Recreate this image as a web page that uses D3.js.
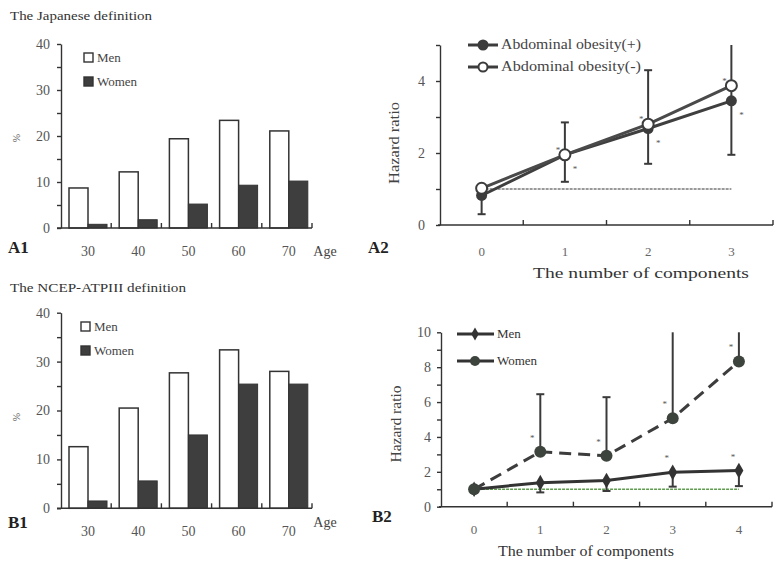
<!DOCTYPE html>
<html>
<head>
<meta charset="utf-8">
<script src="https://cdn.jsdelivr.net/npm/d3@7"></script>
<style>
  body { margin: 0; background: #fff; }
  svg { font-family: "Liberation Serif", "Times New Roman", serif; }
</style>
</head>
<body>
<svg id="fig" width="774" height="562"></svg>
<script>
// ---- data ----
const ages = ['30', '40', '50', '60', '70'];
const sexes = ['Men', 'Women'];
const jpMen = [8.7, 12.2, 19.4, 23.4, 21.1];
const jpWomen = [0.8, 1.8, 5.2, 9.3, 10.2];
const ncepMen = [12.6, 20.5, 27.7, 32.4, 28.0];
const ncepWomen = [1.5, 5.6, 15.0, 25.4, 25.4];

const compsA = ['0', '1', '2', '3'];
const obesPos = [0.82, 1.95, 2.68, 3.45];
const obesNeg = [1.02, 1.95, 2.8, 3.87];
const obesPosLo = [0.3, 1.2, 1.7, 1.95];
const obesPosHi = [1.1, 2.85, 4.3, 5.6];

const compsB = ['0', '1', '2', '3', '4'];
const menHR = [1.0, 1.38, 1.5, 1.97, 2.07];
const menLo = [1.0, 0.82, 0.9, 1.15, 1.18];
const womenHR = [1.0, 3.15, 2.92, 5.07, 8.33];
const womenHi = [1.0, 6.45, 6.28, 10.8, 11.5];

const svg = d3.select('#fig');
const ink = '#333';
const tickInk = '#555';

function txt(g, x, y, s, opts = {}) {
  const t = g.append('text').attr('x', x).attr('y', y).text(s)
    .attr('font-size', opts.size || 13)
    .attr('fill', opts.fill || ink);
  if (opts.bold) t.attr('font-weight', 'bold');
  if (opts.anchor) t.attr('text-anchor', opts.anchor);
  // the scan is a little stretched sideways, so stretch glyphs to the measured width
  if (opts.len) t.attr('textLength', opts.len).attr('lengthAdjust', 'spacingAndGlyphs');
  if (opts.rot) t.attr('transform', `rotate(-90,${x},${y})`);
  return t;
}

function styleAxis(ax) {
  ax.selectAll('path,line').attr('stroke', ink).attr('stroke-width', 1.4);
  ax.selectAll('text').attr('font-family', 'Liberation Serif, Times New Roman, serif')
    .attr('font-size', 14).attr('fill', tickInk);
}

// ---- bar panels (A1, B1) ----
function barPanel(cfg) {
  const g = svg.append('g');
  const x0 = d3.scaleBand().domain(ages).range([61, 312]);
  const x1 = d3.scaleBand().domain(sexes).range([8, 46]);
  const y = d3.scaleLinear().domain([0, 40]).range(cfg.yRange);

  txt(g, 10, cfg.titleY, cfg.title, { size: 13, len: cfg.titleLen, fill: '#333' });

  // bars
  const grp = g.selectAll('g.grp').data(ages).join('g')
    .attr('transform', d => `translate(${x0(d)},0)`);
  grp.append('rect')
    .attr('x', x1('Men')).attr('width', x1.bandwidth())
    .attr('y', (d, i) => y(cfg.men[i])).attr('height', (d, i) => y(0) - y(cfg.men[i]))
    .attr('fill', '#fff').attr('stroke', ink).attr('stroke-width', 1.5);
  grp.append('rect')
    .attr('x', x1('Women')).attr('width', x1.bandwidth())
    .attr('y', (d, i) => y(cfg.women[i])).attr('height', (d, i) => y(0) - y(cfg.women[i]))
    .attr('fill', '#3e3e3e').attr('stroke', '#333').attr('stroke-width', 1);

  // y axis
  const ay = g.append('g').attr('transform', 'translate(61,0)')
    .call(d3.axisLeft(y).tickValues(d3.range(0, 41, 5)).tickSize(4).tickSizeOuter(0)
      .tickPadding(7).tickFormat(d => d % 10 ? '' : d));
  styleAxis(ay);

  // x axis line with small upward ticks at group boundaries
  g.append('line').attr('x1', 57).attr('x2', x0.range()[1])
    .attr('y1', y(0)).attr('y2', y(0)).attr('stroke', ink).attr('stroke-width', 1.6);
  g.selectAll('line.xt').data(ages).join('line')
    .attr('x1', d => x0(d) + x0.bandwidth()).attr('x2', d => x0(d) + x0.bandwidth())
    .attr('y1', y(0)).attr('y2', y(0) - 5).attr('stroke', ink).attr('stroke-width', 1.4);
  g.selectAll('text.xl').data(ages).join('text')
    .attr('x', d => x0(d) + x1.range()[0] + x1.bandwidth())
    .attr('y', y(0) + 28).attr('text-anchor', 'middle')
    .attr('font-size', 14).attr('fill', tickInk).text(d => d);
  txt(g, 325, y(0) + cfg.ageDy, 'Age', { size: 14, anchor: 'middle', fill: '#444' });

  txt(g, cfg.pctX, cfg.pctY, '%', { size: 10, rot: true, anchor: 'middle', fill: '#555' });
  txt(g, 8, cfg.letterY, cfg.letter, { size: 17, bold: true, fill: '#222' });

  // legend
  const lg = g.append('g');
  sexes.forEach((s, i) => {
    const ly = cfg.legY + i * 24;
    lg.append('rect').attr('x', cfg.legX).attr('y', ly - 9).attr('width', 9).attr('height', 9)
      .attr('fill', i ? '#3e3e3e' : '#fff').attr('stroke', ink).attr('stroke-width', 1.4);
    txt(lg, cfg.legX + 13, ly, s, { size: 13, fill: '#444' });
  });
}

barPanel({
  title: 'The Japanese definition', titleY: 20, titleLen: 142, yRange: [228, 44],
  men: jpMen, women: jpWomen, letter: 'A1', letterY: 253, ageDy: 28,
  pctX: 20, pctY: 138, legX: 84, legY: 62
});
barPanel({
  title: 'The NCEP-ATPIII definition', titleY: 292, titleLen: 176, yRange: [508.3, 312.7],
  men: ncepMen, women: ncepWomen, letter: 'B1', letterY: 528, ageDy: 19,
  pctX: 20, pctY: 417, legX: 81, legY: 331
});

// ---- line panels (A2, B2) ----
function linePanel(cfg) {
  const g = svg.append('g');
  const x = d3.scaleBand().domain(cfg.comps).range(cfg.xRange);
  const cx = d => x(d) + x.bandwidth() / 2;
  const y = d3.scaleLinear().domain([0, cfg.yMax]).range(cfg.yRange);
  const yc = v => y(Math.min(v, cfg.yMax));

  // y axis
  const ay = g.append('g').attr('transform', `translate(${cfg.xRange[0]},0)`)
    .call(d3.axisLeft(y).tickValues(d3.range(0, cfg.yMax + 0.01, cfg.minor)).tickSize(4)
      .tickSizeOuter(0).tickPadding(cfg.tickPad).tickFormat(d => d % cfg.major ? '' : d));
  styleAxis(ay);

  // x axis
  g.append('line').attr('x1', cfg.xRange[0] - 2).attr('x2', cfg.xRange[1])
    .attr('y1', y(0)).attr('y2', y(0)).attr('stroke', ink).attr('stroke-width', 1.6);
  g.selectAll('line.xt').data(cfg.comps).join('line')
    .attr('x1', d => x(d) + x.bandwidth()).attr('x2', d => x(d) + x.bandwidth())
    .attr('y1', y(0)).attr('y2', y(0) - 5).attr('stroke', ink).attr('stroke-width', 1.4);
  g.selectAll('text.xl').data(cfg.comps).join('text')
    .attr('x', cx).attr('y', y(0) + cfg.labDy).attr('text-anchor', 'middle')
    .attr('font-size', 13).attr('fill', '#666').text(d => d);

  txt(g, cfg.titleX, cfg.titleY, 'The number of components',
    { size: 15, anchor: 'middle', len: cfg.titleLen, fill: '#333' });
  txt(g, cfg.hrX, cfg.hrY, 'Hazard ratio', { size: 14, anchor: 'middle', rot: true, len: cfg.hrLen, fill: '#444' });
  txt(g, cfg.letterX, cfg.letterY, cfg.letter, { size: 17, bold: true, fill: '#222' });

  // reference line at HR = 1
  g.append('line').attr('x1', cx(cfg.comps[0])).attr('x2', cx(cfg.comps[cfg.comps.length - 1]))
    .attr('y1', y(1)).attr('y2', y(1)).attr('stroke', cfg.refColor)
    .attr('stroke-width', 1.5).attr('stroke-dasharray', '3,1');

  cfg.draw(g, x, cx, y, yc);
}

function errBar(g, xp, yFrom, yTo, capped) {
  g.append('line').attr('x1', xp).attr('x2', xp).attr('y1', yFrom).attr('y2', yTo)
    .attr('stroke', '#3a3a3a').attr('stroke-width', 2);
  if (capped) g.append('line').attr('x1', xp - 4).attr('x2', xp + 4).attr('y1', yTo).attr('y2', yTo)
    .attr('stroke', '#3a3a3a').attr('stroke-width', 2);
}

function star(g, xp, yp) {
  g.append('text').attr('x', xp).attr('y', yp + 5).attr('text-anchor', 'middle')
    .attr('font-size', 9).attr('fill', '#555').text('*');
}

linePanel({
  comps: compsA, xRange: [440, 773], yMax: 5, yRange: [225, 45], minor: 1, major: 2, tickPad: 11,
  labDy: 31, titleX: 641, titleY: 278, titleLen: 216, hrX: 399, hrY: 143, hrLen: 82,
  letter: 'A2', letterX: 368, letterY: 253, refColor: '#7a7a7a',
  draw(g, x, cx, y, yc) {
    compsA.forEach((c, i) => {
      errBar(g, cx(c), y(obesPos[i]), y(obesPosLo[i]), true);
      errBar(g, cx(c), y(obesPos[i]), yc(obesPosHi[i]), obesPosHi[i] <= 5);
    });
    const line = vals => d3.line().x((d, i) => cx(compsA[i])).y(d => y(d))(vals);
    g.append('path').attr('d', line(obesPos)).attr('fill', 'none')
      .attr('stroke', '#3f3f3f').attr('stroke-width', 3);
    g.append('path').attr('d', line(obesNeg)).attr('fill', 'none')
      .attr('stroke', '#4a4a4a').attr('stroke-width', 3);
    g.selectAll('circle.pos').data(obesPos).join('circle')
      .attr('cx', (d, i) => cx(compsA[i])).attr('cy', d => y(d)).attr('r', 5.5)
      .attr('fill', '#3c3c3c');
    g.selectAll('circle.neg').data(obesNeg).join('circle')
      .attr('cx', (d, i) => cx(compsA[i])).attr('cy', d => y(d)).attr('r', 5.5)
      .attr('fill', '#fff').attr('stroke', '#3c3c3c').attr('stroke-width', 2);
    compsA.slice(1).forEach((c, k) => {
      const i = k + 1;
      star(g, cx(c) - 7, y(obesNeg[i]) - 7);
      star(g, cx(c) + 10, y(obesPos[i]) + 12);
    });
    // legend
    [['Abdominal obesity(+)', '#3c3c3c'], ['Abdominal obesity(-)', '#fff']].forEach(([s, f], i) => {
      const ly = 45 + i * 22;
      g.append('line').attr('x1', 468).attr('x2', 498).attr('y1', ly).attr('y2', ly)
        .attr('stroke', '#3c3c3c').attr('stroke-width', 3);
      g.append('circle').attr('cx', 483).attr('cy', ly).attr('r', 4.5)
        .attr('fill', f).attr('stroke', '#3c3c3c').attr('stroke-width', 2);
      txt(g, 501, ly + 4, s, { size: 14, len: 140, fill: '#444' });
    });
  }
});

linePanel({
  comps: compsB, xRange: [441, 772], yMax: 10, yRange: [506.7, 332.3], minor: 1, major: 2, tickPad: 6,
  labDy: 27, titleX: 586, titleY: 556, titleLen: 176, hrX: 401, hrY: 424, hrLen: 77,
  letter: 'B2', letterX: 372, letterY: 522, refColor: '#5f9a4f',
  draw(g, x, cx, y, yc) {
    compsB.forEach((c, i) => {
      if (i === 0) return;
      errBar(g, cx(c), y(womenHR[i]), yc(womenHi[i]), womenHi[i] <= 10);
      errBar(g, cx(c), y(menHR[i]), y(menLo[i]), true);
    });
    const line = vals => d3.line().x((d, i) => cx(compsB[i])).y(d => y(d))(vals);
    g.append('path').attr('d', line(womenHR)).attr('fill', 'none')
      .attr('stroke', '#3d3d3d').attr('stroke-width', 3).attr('stroke-dasharray', '12,7');
    g.append('path').attr('d', line(menHR)).attr('fill', 'none')
      .attr('stroke', '#333').attr('stroke-width', 3);
    g.selectAll('path.dm').data(menHR).join('path')
      .attr('transform', (d, i) => `translate(${cx(compsB[i])},${y(d)})`)
      .attr('d', d3.symbol(d3.symbolDiamond, 70)).attr('fill', '#333');
    g.selectAll('circle.w').data(womenHR).join('circle')
      .attr('cx', (d, i) => cx(compsB[i])).attr('cy', d => y(d)).attr('r', 6)
      .attr('fill', '#3d433d');
    compsB.slice(1).forEach((c, k) => {
      const i = k + 1;
      star(g, cx(c) - 8, y(womenHR[i]) - 16);
      if (i >= 3) star(g, cx(c) - 6, y(menHR[i]) - 16);
    });
    // legend
    ['Men', 'Women'].forEach((s, i) => {
      const ly = 334 + i * 27;
      g.append('line').attr('x1', 457).attr('x2', 494).attr('y1', ly).attr('y2', ly)
        .attr('stroke', '#333').attr('stroke-width', 3);
      if (i === 0) {
        g.append('path').attr('transform', `translate(475,${ly})`)
          .attr('d', d3.symbol(d3.symbolDiamond, 50)).attr('fill', '#333');
      } else {
        g.append('circle').attr('cx', 475).attr('cy', ly).attr('r', 5).attr('fill', '#3d433d');
      }
      txt(g, 497, ly + 4, s, { size: 13, fill: '#333' });
    });
  }
});
</script>
</body>
</html>
